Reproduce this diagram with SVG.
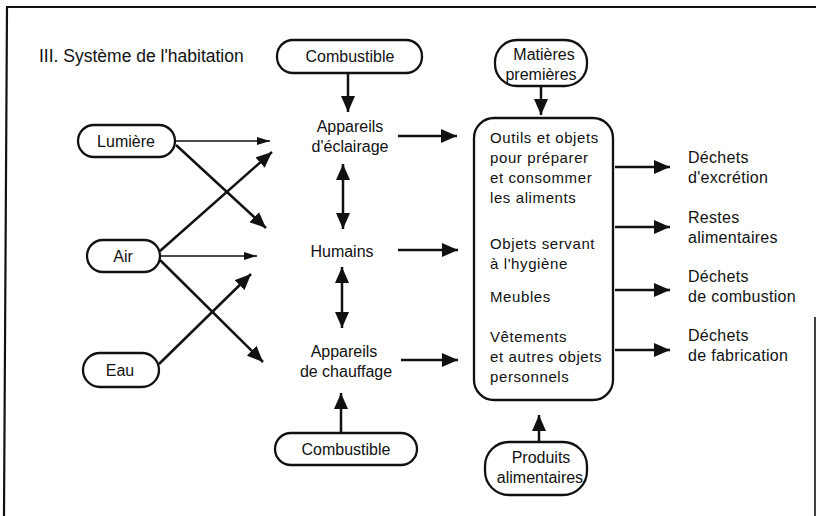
<svg xmlns="http://www.w3.org/2000/svg" width="816" height="516" viewBox="0 0 816 516">
<defs>
<style>
text{font-family:"Liberation Sans",Arial,Helvetica,sans-serif;fill:#111;font-size:16px}
.c{text-anchor:middle}
.box{fill:none;stroke:#111;stroke-width:2.3}
.ln{fill:none;stroke:#111;stroke-width:2.5}
.th{fill:none;stroke:#111;stroke-width:1.7}
.mb{font-size:15px;letter-spacing:0.6px}
.rl{letter-spacing:0.3px}
</style>
<marker id="ah" markerUnits="userSpaceOnUse" markerWidth="17" markerHeight="14" refX="16" refY="7" orient="auto-start-reverse" viewBox="0 0 17 14">
<path d="M0,0 L16,7 L0,14 z" fill="#111"/>
</marker>
<marker id="as" markerUnits="userSpaceOnUse" markerWidth="14" markerHeight="8" refX="13" refY="4" orient="auto" viewBox="0 0 14 8">
<path d="M0,0 L13,4 L0,8 z" fill="#111"/>
</marker>
</defs>
<rect width="816" height="516" fill="#fff"/>
<g id="frame">
<path d="M4,516 L7,7 L816,7" fill="none" stroke="#111" stroke-width="2.2"/>
<path d="M815,317 L815,516" fill="none" stroke="#111" stroke-width="1.6"/>
</g>
<g id="title"><text x="39" y="62" style="font-size:17.5px">III. Système de l'habitation</text></g>

<g id="combustible-top"><rect class="box" x="277" y="40" width="145" height="33" rx="16"/><text class="c" x="350" y="62">Combustible</text></g>
<g id="matieres"><rect class="box" x="495" y="40" width="92" height="46" rx="22"/><text class="c" x="544" y="60">Matières</text><text class="c" x="541" y="80">premières</text></g>
<g id="lumiere"><rect class="box" x="78" y="125" width="97" height="32" rx="16"/><text class="c" x="126" y="147">Lumière</text></g>
<g id="air"><rect class="box" x="87" y="240" width="73" height="32" rx="16"/><text class="c" x="123" y="262">Air</text></g>
<g id="eau"><rect class="box" x="83" y="353" width="76" height="34" rx="17"/><text class="c" x="120" y="376">Eau</text></g>
<g id="eclairage"><text class="c" x="350" y="132">Appareils</text><text class="c" x="350" y="152">d'éclairage</text></g>
<g id="humains"><text class="c" x="342" y="257">Humains</text></g>
<g id="chauffage"><text class="c" x="344" y="357">Appareils</text><text class="c" x="346" y="377">de chauffage</text></g>
<g id="combustible-bottom"><rect class="box" x="275" y="433" width="142" height="32" rx="16"/><text class="c" x="346" y="455">Combustible</text></g>
<g id="produits"><rect class="box" x="485" y="442" width="102" height="53" rx="24"/><text class="c" x="541" y="463">Produits</text><text class="c" x="540" y="483">alimentaires</text></g>
<g id="objets">
<rect class="box" x="474" y="118" width="139" height="282" rx="20"/>
<text class="mb" x="490" y="143">Outils et objets</text>
<text class="mb" x="490" y="163">pour préparer</text>
<text class="mb" x="490" y="183">et consommer</text>
<text class="mb" x="490" y="203">les aliments</text>
<text class="mb" x="490" y="249">Objets servant</text>
<text class="mb" x="490" y="269">à l'hygiène</text>
<text class="mb" x="490" y="302">Meubles</text>
<text class="mb" x="490" y="342">Vêtements</text>
<text class="mb" x="490" y="362">et autres objets</text>
<text class="mb" x="490" y="382">personnels</text>
</g>
<g id="dechets-excretion"><text class="rl" x="688" y="163">Déchets</text><text class="rl" x="688" y="183">d'excrétion</text></g>
<g id="restes"><text class="rl" x="688" y="223">Restes</text><text class="rl" x="688" y="243">alimentaires</text></g>
<g id="dechets-combustion"><text class="rl" x="688" y="282">Déchets</text><text class="rl" x="688" y="302">de combustion</text></g>
<g id="dechets-fabrication"><text class="rl" x="688" y="341">Déchets</text><text class="rl" x="688" y="361">de fabrication</text></g>

<g id="connectors">
<path class="th" d="M175,141 L270,141" marker-end="url(#as)"/>
<path class="ln" d="M176,145 L266,228" marker-end="url(#ah)"/>
<path class="ln" d="M160,251 L272,152" marker-end="url(#ah)"/>
<path class="th" d="M160,256 L257,256" marker-end="url(#as)"/>
<path class="ln" d="M160,260 L263,362" marker-end="url(#ah)"/>
<path class="ln" d="M159,364 L251,274" marker-end="url(#ah)"/>
<path class="ln" d="M348,73 L348,112" marker-end="url(#ah)"/>
<path class="ln" d="M343,164 L343,229" marker-start="url(#ah)" marker-end="url(#ah)"/>
<path class="ln" d="M342,267 L342,328" marker-start="url(#ah)" marker-end="url(#ah)"/>
<path class="ln" d="M341,432 L341,393" marker-end="url(#ah)"/>
<path class="ln" d="M541,86 L541,115" marker-end="url(#ah)"/>
<path class="ln" d="M539,442 L539,415" marker-end="url(#ah)"/>
<path class="ln" d="M398,136 L457,136" marker-end="url(#ah)"/>
<path class="ln" d="M398,250 L458,250" marker-end="url(#ah)"/>
<path class="ln" d="M401,360 L458,360" marker-end="url(#ah)"/>
<path class="ln" d="M615,167 L670,167" marker-end="url(#ah)"/>
<path class="ln" d="M615,227 L670,227" marker-end="url(#ah)"/>
<path class="ln" d="M615,290 L670,290" marker-end="url(#ah)"/>
<path class="ln" d="M615,350 L670,350" marker-end="url(#ah)"/>
</g>
</svg>
